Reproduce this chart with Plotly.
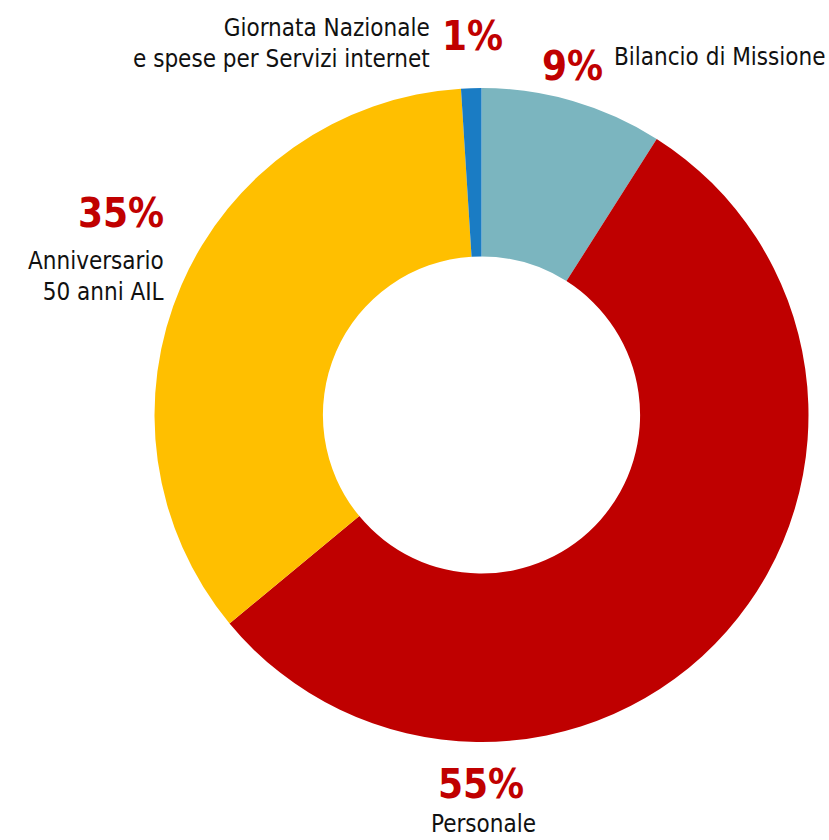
import plotly.graph_objects as go

labels = ["Bilancio di Missione", "Personale", "Anniversario 50 anni AIL",
          "Giornata Nazionale e spese per Servizi internet"]
values = [9, 55, 35, 1]
colors = ["#7bb5bf", "#bf0000", "#ffbf00", "#1a7cc4"]

W, H = 829, 840
cx, cy, R = 481.5, 415, 327

fig = go.Figure(go.Pie(
    labels=labels, values=values, sort=False, direction="clockwise", rotation=0,
    hole=0.485, textinfo="none", hoverinfo="skip", showlegend=False,
    marker=dict(colors=colors, line=dict(width=0)),
    domain=dict(x=[(cx - R) / W, (cx + R) / W], y=[(H - cy - R) / H, (H - cy + R) / H]),
))

FONT = "DejaVu Sans Condensed, Liberation Sans Narrow, Roboto, sans-serif"
RED = "#c00000"

def ann(x, y, text, size, color="#111111", bold=False, xanchor="center", align="center"):
    t = f"<b>{text}</b>" if bold else text
    fig.add_annotation(x=x / W, y=1 - y / H, xref="paper", yref="paper", text=t,
                       showarrow=False, xanchor=xanchor, yanchor="middle", align=align,
                       font=dict(family=FONT, size=size, color=color))

pct = [f"{v}%" for v in values]
LS = 24
# Bilancio di Missione
ann(540, 66, pct[0], 40, RED, True, xanchor="left")
ann(612, 57, labels[0], LS, xanchor="left")
# Personale
ann(481, 784, pct[1], 40, RED, True)
ann(483, 824, labels[1], LS)
# Anniversario
ann(166, 213, pct[2], 40, RED, True, xanchor="right")
ann(166, 277, "Anniversario<br>50 anni AIL", LS, xanchor="right", align="right")
# Giornata Nazionale
ann(472, 36, pct[3], 40, RED, True)
ann(432, 43, "Giornata Nazionale<br>e spese per Servizi internet", LS, xanchor="right", align="right")

fig.update_layout(width=W, height=H, margin=dict(l=0, r=0, t=0, b=0),
                  paper_bgcolor="white", plot_bgcolor="white")
fig.write_html("out.html")
